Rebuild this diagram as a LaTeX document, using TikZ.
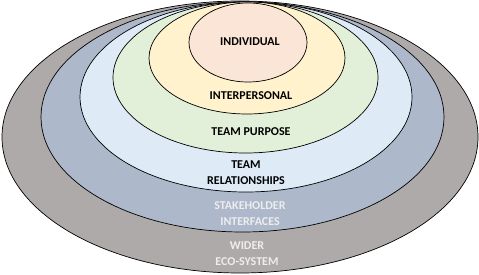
\documentclass[tikz,border=0pt]{standalone}
\usepackage{fontspec}
\setmainfont{Carlito}[BoldFont={Carlito Bold}]
\usepackage{tikz}
\usetikzlibrary{shapes.geometric}
\definecolor{RingEco}{HTML}{AEAAAA}
\definecolor{RingStake}{HTML}{ADB9CA}
\definecolor{RingRel}{HTML}{DEEBF7}
\definecolor{RingPurpose}{HTML}{E2F0D9}
\definecolor{RingInter}{HTML}{FFF2CC}
\definecolor{RingSelf}{HTML}{FBE5D6}

\begin{document}
\begin{tikzpicture}[
    x=1pt,y=-1pt,
    ring/.style={ellipse,draw=black,line width=0.7pt,inner sep=0pt},
    lbl/.style={font=\fontsize{12}{16}\selectfont\bfseries,align=center,text=black},
    lbllight/.style={lbl,text=white!93!black}
  ]
    \useasboundingbox (0,0) rectangle (479,275);
    \node[ring,fill=RingEco,minimum width=476pt,minimum height=272pt] (eco) at (240,137) {};
    \node[ring,fill=RingStake,minimum width=403pt,minimum height=230pt] (stake) at (242.5,117) {};
    \node[ring,fill=RingRel,minimum width=332pt,minimum height=190pt] (rel) at (246,97) {};
    \node[ring,fill=RingPurpose,minimum width=265pt,minimum height=151pt] (purpose) at (245.5,77.5) {};
    \node[ring,fill=RingInter,minimum width=196pt,minimum height=112pt] (inter) at (247,58) {};
    \node[ring,fill=RingSelf,minimum width=118pt,minimum height=79pt] (self) at (248,42.5) {};
    \node[lbl] (selftxt) at (250,42) {INDIVIDUAL};
    \node[lbl] (intertxt) at (251,96) {INTERPERSONAL};
    \node[lbl] (purposetxt) at (251,132) {TEAM PURPOSE};
    \node[lbl] (reltxt) at (246,173) {TEAM\\RELATIONSHIPS};
    \node[lbllight] (staketxt) at (250,214) {STAKEHOLDER\\INTERFACES};
    \node[lbllight] (ecotxt) at (247,254) {WIDER\\ECO-SYSTEM};
  \end{tikzpicture}
\end{document}
